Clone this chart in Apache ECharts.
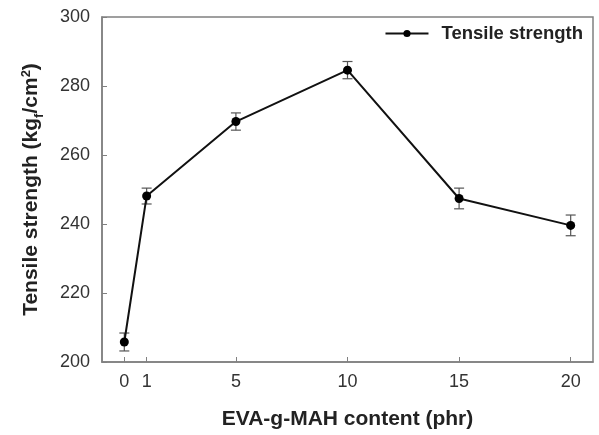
<!DOCTYPE html>
<html>
<head>
<meta charset="utf-8">
<script src="https://cdn.jsdelivr.net/npm/echarts@6/dist/echarts.min.js"></script>
<style>
  html, body { margin: 0; padding: 0; background: #fff; }
  #chart { width: 599px; height: 435px; }
</style>
</head>
<body>
<div id="chart"></div>
<script>
// EVA-g-MAH content (phr)
const contents = [0, 1, 5, 10, 15, 20];
// tensile strength (kgf/cm2)
const strength = [205.8, 248.1, 269.7, 284.6, 247.4, 239.6];
// error bar half-widths
const errors = [2.6, 2.3, 2.5, 2.5, 3.0, 3.0];
const yTicks = [200, 220, 240, 260, 280, 300];

const chart = echarts.init(document.getElementById('chart'));

const lineData = contents.map((x, i) => [x, strength[i]]);
const errData = contents.map((x, i) => [x, strength[i] - errors[i], strength[i] + errors[i]]);

const font = 'Liberation Sans, Arial, sans-serif';

chart.setOption({
  animation: false,
  grid: {
    left: 102, right: 6, top: 17, bottom: 71,
    show: true, borderColor: '#808080', borderWidth: 1.5
  },
  legend: {
    right: 11, top: 19,
    itemWidth: 43, itemHeight: 9, itemGap: 10,
    data: ['Tensile strength'],
    textStyle: { fontFamily: font, fontWeight: 'bold', fontSize: 18.5, color: '#222', padding: [0, 0, 0, 8] }
  },
  xAxis: {
    type: 'value', min: -1, max: 21,
    name: 'EVA-g-MAH content (phr)',
    nameLocation: 'middle', nameGap: 47,
    nameTextStyle: { fontFamily: font, fontWeight: 'bold', fontSize: 21, color: '#222' },
    splitLine: { show: false },
    axisLine: { onZero: false, lineStyle: { color: '#808080', width: 1.5 } },
    axisTick: { inside: true, length: 5, customValues: contents, lineStyle: { color: '#808080' } },
    axisLabel: { customValues: contents, fontFamily: font, fontSize: 18, color: '#333', margin: 11 }
  },
  yAxis: {
    type: 'value', min: yTicks[0], max: yTicks[yTicks.length - 1], interval: 20,
    name: '{b|Tensile strength (kg}{sub|f}{b|/cm}{sup|2}{b|)}',
    nameLocation: 'middle', nameGap: 60,
    nameTextStyle: {
      fontFamily: font, fontWeight: 'bold', fontSize: 21, color: '#222',
      rich: {
        b: { fontFamily: font, fontWeight: 'bold', fontSize: 21, color: '#222' },
        sub: { fontFamily: font, fontWeight: 'bold', fontSize: 13, color: '#222', verticalAlign: 'bottom', padding: [0, 0, -4, 0] },
        sup: { fontFamily: font, fontWeight: 'bold', fontSize: 13, color: '#222', verticalAlign: 'top', padding: [-1, 0, 0, 0] }
      }
    },
    splitLine: { show: false },
    axisLine: { show: true, onZero: false, lineStyle: { color: '#808080', width: 1.5 } },
    axisTick: { show: true, inside: true, length: 5, lineStyle: { color: '#808080' } },
    axisLabel: { fontFamily: font, fontSize: 18, color: '#333', margin: 12 }
  },
  series: [
    {
      name: 'Tensile strength',
      type: 'line',
      data: lineData,
      symbol: 'circle',
      symbolSize: 9,
      lineStyle: { color: '#111', width: 2 },
      itemStyle: { color: '#000' },
      z: 3
    },
    {
      type: 'custom',
      data: errData,
      z: 2,
      renderItem: function (params, api) {
        const x = api.value(0);
        const lo = api.coord([x, api.value(1)]);
        const hi = api.coord([x, api.value(2)]);
        const w = 5;
        const style = { stroke: '#555', lineWidth: 1.2 };
        return {
          type: 'group',
          children: [
            { type: 'line', shape: { x1: lo[0], y1: lo[1], x2: hi[0], y2: hi[1] }, style: style },
            { type: 'line', shape: { x1: lo[0] - w, y1: lo[1], x2: lo[0] + w, y2: lo[1] }, style: style },
            { type: 'line', shape: { x1: hi[0] - w, y1: hi[1], x2: hi[0] + w, y2: hi[1] }, style: style }
          ]
        };
      }
    }
  ]
});
</script>
</body>
</html>
